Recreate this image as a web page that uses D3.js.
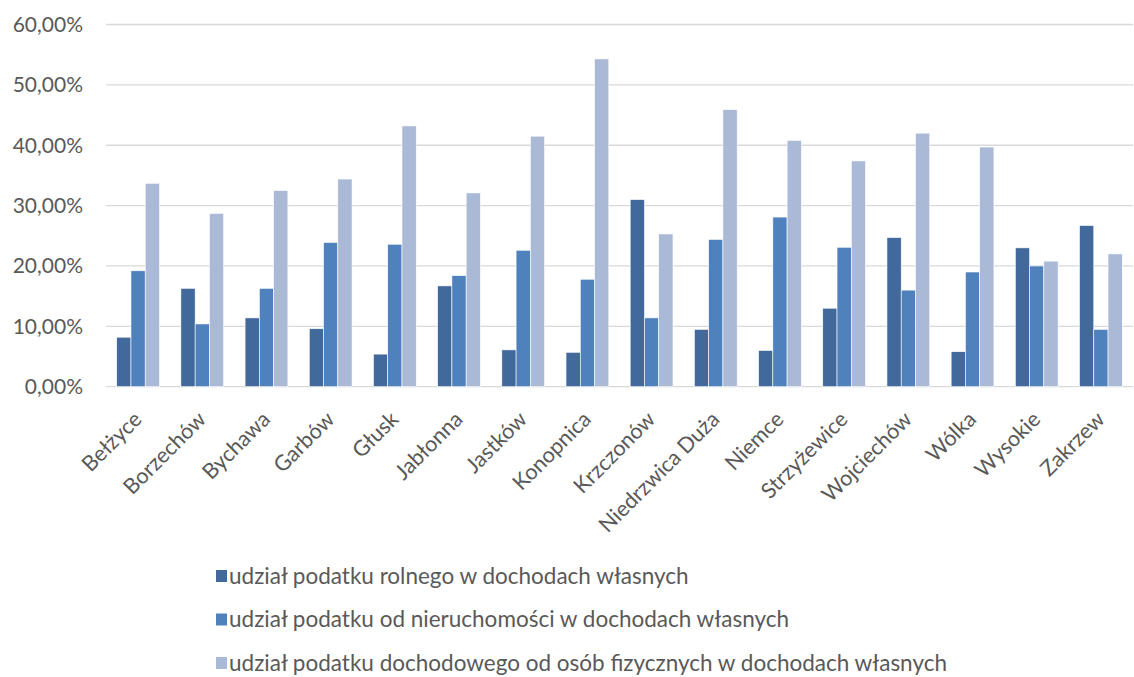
<!DOCTYPE html>
<html><head><meta charset="utf-8">
<script src="https://cdn.jsdelivr.net/npm/d3@7"></script>
<style>body{margin:0;background:#fff}svg{display:block}text{font-family:Lato,"Open Sans",sans-serif;fill:#595959}</style>
</head><body><svg id="c" width="1134" height="677"></svg>
<script>
const categories = ["Bełżyce","Borzechów","Bychawa","Garbów","Głusk","Jabłonna","Jastków","Konopnica","Krzczonów","Niedrzwica Duża","Niemce","Strzyżewice","Wojciechów","Wólka","Wysokie","Zakrzew"];
const seriesNames = ["udział podatku rolnego w dochodach własnych","udział podatku od nieruchomości w dochodach własnych","udział podatku dochodowego od osób fizycznych w dochodach własnych"];
const rolny = [8.2,16.3,11.4,9.6,5.4,16.7,6.1,5.7,31.0,9.5,6.0,13.0,24.7,5.8,23.0,26.7];
const nieruchomosci = [19.2,10.4,16.3,23.9,23.6,18.4,22.6,17.8,11.4,24.4,28.1,23.1,16.0,19.0,20.0,9.5];
const dochodowy = [33.7,28.7,32.5,34.4,43.2,32.1,41.5,54.3,25.3,45.9,40.8,37.4,42.0,39.7,20.8,22.0];
const yTicks = [0,10,20,30,40,50,60];
const colors = ["#41699b","#4f81bd","#aab9d6"];

(function(){
const series = [rolny, nieruchomosci, dochodowy];
const svg = d3.select("#c");
const pL = 106, pR = 1133, pT = 24.5, pB = 386.7;
const x = d3.scaleBand().domain(categories).range([pL, pR]).paddingInner(0).paddingOuter(0);
const y = d3.scaleLinear().domain([0,60]).range([pB, pT]);
const barW = x.bandwidth() / 4.5;
const xs = d3.scaleBand().domain([0,1,2]).range([0, barW*3]);
const fmt = v => d3.format(".2f")(v).replace(".", ",") + "%";

// font size fitted so a sample string reaches the width seen in the reference
function fit(sample, target) {
  const t = svg.append("text").attr("font-size", 20).text(sample);
  const w = t.node().getComputedTextLength();
  t.remove();
  return 20 * target / w;
}
const fsY = Math.min(fit("60,00%", 71), 21);
const fsX = Math.min(fit("Niedrzwica Duża", 160), 23);
const fsL = Math.min(fit(seriesNames[2], 718), 24);

svg.append("g").selectAll("line").data(yTicks).join("line")
  .attr("x1", pL).attr("x2", pR)
  .attr("y1", d => y(d)).attr("y2", d => y(d))
  .attr("stroke", "#d9d9d9").attr("stroke-width", 1.3);

svg.append("g").selectAll("text").data(yTicks).join("text")
  .attr("x", 83).attr("y", d => y(d)).attr("dy", "0.35em")
  .attr("text-anchor", "end").attr("font-size", fsY).text(fmt);

const g = svg.append("g");
series.forEach((s, si) => {
  g.append("g").selectAll("rect").data(s).join("rect")
    .attr("x", (d, i) => x(categories[i]) + (x.bandwidth() - barW*3)/2 + xs(si))
    .attr("width", barW)
    .attr("y", d => y(d)).attr("height", d => y(0) - y(d))
    .attr("fill", colors[si]).attr("stroke", "#fff").attr("stroke-width", 0.6);
});

svg.append("g").selectAll("text").data(categories).join("text")
  .attr("transform", d => `translate(${x(d) + x.bandwidth()/2 + 5},${pB + 34}) rotate(-45)`)
  .attr("text-anchor", "end").attr("font-size", fsX).text(d => d);

const lg = svg.append("g");
seriesNames.forEach((n, i) => {
  const cy = 576 + i * 43.5;
  lg.append("rect").attr("x", 216).attr("y", cy - 6).attr("width", 11).attr("height", 12).attr("fill", colors[i]);
  lg.append("text").attr("x", 229).attr("y", cy).attr("dy", "0.35em").attr("font-size", fsL).text(n);
});
})();
</script></body></html>
